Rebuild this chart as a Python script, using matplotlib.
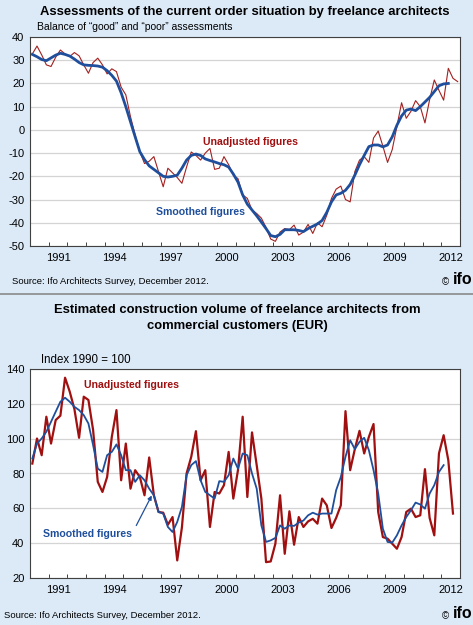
import matplotlib
matplotlib.use("Agg")
import matplotlib.pyplot as plt
from matplotlib.lines import Line2D
import numpy as np

plt.rcParams['font.family'] = ['Liberation Sans', 'DejaVu Sans']
plt.rcParams['axes.unicode_minus'] = False

# ---------------- data (quarterly, starting 1990 Q1) ----------------
start_year = 1990
top_unadjusted = [32.7, 36.1, 32.3, 28, 27.3, 31.3, 34.4, 32.7, 31.6, 33.3, 31.9, 28,
                  24.4, 29, 30.9, 28, 24.1, 26.3, 25.1, 18.4, 15.1, 5.7, -2.2, -9.4,
                  -14.5, -13.5, -11.5, -18, -24.5, -16.5, -18.5, -20.5, -23, -16, -9.5, -11,
                  -13, -10, -8, -17, -16.5, -11.5, -15, -19.5, -21, -28, -29.5, -34.5,
                  -36, -38, -42, -47, -48, -44, -42.5, -43, -41, -45.3, -44, -40.7,
                  -44.6, -40, -41.7, -36.7, -29.5, -25.5, -24.2, -30, -31, -18, -13, -11.5,
                  -14, -3.5, -0.5, -7, -14, -8.5, 1.5, 11.7, 5, 8, 12.6, 10,
                  3, 13, 21.5, 17, 12.8, 26.5, 22.2, 20.8]
top_smoothed = [32.5, 31.5, 30.3, 29.8, 31, 32.2, 33, 32.5, 31.8, 30.5, 29, 28,
                27.8, 27.7, 27.5, 27, 25.5, 23.5, 21, 16, 10, 3.5, -3, -9.4,
                -12.8, -15.5, -17, -18.5, -20, -20.3, -20, -19.5, -16.5, -13, -11, -10.4,
                -11, -12.5, -13.2, -13.8, -14.5, -15, -16, -19, -22.5, -28, -32, -34.5,
                -37, -39.7, -42.5, -45.5, -46, -45, -43, -43, -43, -43.3, -43.8, -42.5,
                -41.5, -40.5, -39, -35.5, -31, -28, -27.3, -26, -23.5, -19.5, -15, -11,
                -7.2, -6.5, -6.5, -7.3, -6.5, -3, 2, 6, 8.5, 9, 8.3, 10,
                12, 14, 16.5, 19, 19.8, 20]
bot_unadjusted = [85.7, 100.1, 90.5, 112.6, 97.2, 110.7, 113.2, 135, 127, 117, 100.5, 124.1,
                  122.2, 105, 75.2, 69.4, 78, 101, 116.4, 76.1, 97.2, 71.3, 81.9, 78,
                  67.5, 89.2, 67.5, 57.9, 57.5, 50.6, 55, 30.1, 49, 80, 89.6, 104.3,
                  76.1, 81.9, 49.3, 69.4, 68.5, 73.3, 92.4, 65.6, 82, 112.6, 66.5, 103.6,
                  84.8, 65.6, 29.1, 29.5, 39.7, 67.5, 33.9, 58.3, 39.1, 55, 49.3, 52.5,
                  54, 51.2, 65.6, 61.7, 48.7, 54.5, 61.7, 115.8, 81.9, 94, 104.5, 91.5,
                  101, 108.4, 57.9, 43.5, 42.6, 39.7, 36.8, 43.5, 57.9, 59.8, 55, 56,
                  82.5, 54.5, 44.5, 91.5, 102, 87.6, 57]
bot_smoothed = [88.6, 97.2, 100.1, 104, 109.7, 115.5, 121.2, 123.5, 121.2, 118.3, 116.4, 113.5,
                108.7, 96.3, 82.8, 80.9, 90.5, 92.4, 96.7, 90.5, 81.9, 81.9, 75.2, 79,
                76.1, 71.3, 67.5, 57.9, 57, 49.3, 46.4, 52.2, 60.8, 79, 84.8, 87.1,
                76.1, 69.4, 67.5, 65.6, 75.6, 75.2, 79, 88.6, 82.8, 91.5, 90.5, 80,
                71.3, 50.2, 40.7, 41.6, 43, 50.2, 48.3, 50.2, 49.9, 51.8, 53, 56,
                57.5, 56.4, 57, 57, 57, 70.4, 78, 89.6, 99.1, 94, 98.2, 100.5,
                93.4, 81.9, 68.5, 48.3, 40.7, 40.3, 44.5, 50.2, 55, 58.9, 63.3, 62.2,
                59.8, 68.5, 73.3, 80.9, 84.8]
year_labels = [1991, 1994, 1997, 2000, 2003, 2006, 2009, 2012]
top_yticks = [40, 30, 20, 10, 0, -10, -20, -30, -40, -50]
bot_yticks = [140, 120, 100, 80, 60, 40, 20]

def qx(n):
    return start_year + 0.125 + 0.25 * np.arange(n)

W, H = 473, 625
BG = '#dceaf8'
RED_THIN = '#a32020'
RED = '#a01010'
BLUE = '#1f4f9c'
TICK_FS = 8

fig = plt.figure(figsize=(W / 100, H / 100), dpi=100, facecolor=BG)

def fx(x):
    return x / W

def fy(y):
    return 1 - y / H

def make_axes(top, bottom):
    ax = fig.add_axes([fx(30), fy(bottom), fx(460) - fx(30), fy(top) - fy(bottom)])
    ax.set_facecolor('white')
    for s in ax.spines.values():
        s.set_color('#404040')
        s.set_linewidth(0.8)
    ax.set_xlim(1990, 2013)
    ax.set_xticks(np.arange(1991, 2013))
    ax.set_xticklabels([])
    ax.set_xticks([y + 0.5 for y in year_labels], minor=True)
    ax.set_xticklabels([str(y) for y in year_labels], minor=True, fontsize=TICK_FS)
    ax.tick_params(axis='x', which='major', direction='in', length=3, width=0.7, color='#404040')
    ax.tick_params(axis='x', which='minor', length=0, pad=5)
    ax.tick_params(axis='y', length=0, labelsize=TICK_FS, pad=4)
    ax.grid(axis='y', color='#d4d4d4', linewidth=0.9)
    ax.set_axisbelow(True)
    return ax

# ---------------- top panel ----------------
ax1 = make_axes(37, 246)
ax1.set_ylim(-50, 40)
ax1.set_yticks(top_yticks)
ax1.plot(qx(len(top_unadjusted)), top_unadjusted, color=RED_THIN, lw=0.8)
ax1.plot(qx(len(top_smoothed)), top_smoothed, color=BLUE, lw=2.0)
ax1.text(fx(250), fy(142), 'Unadjusted figures', transform=fig.transFigure,
         color=RED, fontsize=7.6, fontweight='bold', ha='center', va='center')
ax1.text(fx(200), fy(212), 'Smoothed figures', transform=fig.transFigure,
         color=BLUE, fontsize=7.6, fontweight='bold', ha='center', va='center')

fig.text(fx(245), fy(12), 'Assessments of the current order situation by freelance architects',
         fontsize=9.4, fontweight='bold', ha='center', va='center')
fig.text(fx(37), fy(27), 'Balance of \u201cgood\u201d and \u201cpoor\u201d assessments',
         fontsize=7.5, ha='left', va='center')
fig.text(fx(12), fy(281), 'Source: Ifo Architects Survey, December 2012.',
         fontsize=6.8, ha='left', va='center')
fig.text(fx(445), fy(282), '\u00a9', fontsize=7, ha='center', va='center')
fig.text(fx(472), fy(280), 'ifo', fontsize=11.5, fontweight='bold', ha='right', va='center')

# separator
fig.add_artist(Line2D([0, 1], [fy(294), fy(294)], color='#8a8a8a', lw=1.2))

# ---------------- bottom panel ----------------
ax2 = make_axes(369, 578)
ax2.set_ylim(20, 140)
ax2.set_yticks(bot_yticks)
ax2.plot(qx(len(bot_unadjusted)), bot_unadjusted, color=RED, lw=1.6)
ax2.plot(qx(len(bot_smoothed)), bot_smoothed, color=BLUE, lw=1.3)
ax2.text(fx(131), fy(385), 'Unadjusted figures', transform=fig.transFigure,
         color=RED, fontsize=7.6, fontweight='bold', ha='center', va='center')
ax2.text(fx(87), fy(534), 'Smoothed figures', transform=fig.transFigure,
         color=BLUE, fontsize=7.6, fontweight='bold', ha='center', va='center')
ax2.annotate('', xy=(fx(153), fy(493)), xytext=(fx(135), fy(528)),
             xycoords='figure fraction', textcoords='figure fraction',
             arrowprops=dict(arrowstyle='-|>', color=BLUE, lw=0.9, mutation_scale=6))

fig.text(fx(237), fy(318), 'Estimated construction volume of freelance architects from\ncommercial customers (EUR)',
         fontsize=9.4, fontweight='bold', ha='center', va='center', linespacing=1.4)
fig.text(fx(41), fy(360), 'Index 1990 = 100', fontsize=8.3, ha='left', va='center')
fig.text(fx(4), fy(615), 'Source: Ifo Architects Survey, December 2012.',
         fontsize=6.8, ha='left', va='center')
fig.text(fx(445), fy(616), '\u00a9', fontsize=7, ha='center', va='center')
fig.text(fx(472), fy(614), 'ifo', fontsize=11.5, fontweight='bold', ha='right', va='center')

fig.savefig('out.png', dpi=100, facecolor=BG)
